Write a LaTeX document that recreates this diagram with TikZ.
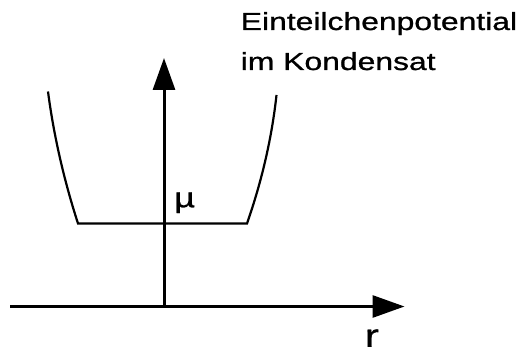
\documentclass[tikz,border=0pt]{standalone}
\usepackage{fontspec}
\setmainfont{Liberation Sans}
\newfontfamily\widefont[FakeStretch=1.29,FakeBold=0.9]{Liberation Sans}
\usetikzlibrary{arrows.meta}
\begin{document}
\begin{tikzpicture}[x=1pt,y=-1pt,
  axis/.style={line width=3pt,-{Triangle[length=32pt,width=22pt]}},
  thin/.style={line width=2.2pt},
  lbl/.style={inner sep=0pt,outer sep=0pt,anchor=base west}]
\useasboundingbox (0,0) rectangle (524,350);
% axes
\coordinate (hs) at (10,306.5);
\coordinate (he) at (404.5,306.5);
\coordinate (vs) at (164,306.5);
\coordinate (ve) at (164,58);
\draw[axis] (hs) -- (he);
\draw[axis] (vs) -- (ve);
% potential
\coordinate (lt) at (48,91.5);
\coordinate (lb) at (78,223.5);
\coordinate (rb) at (247,223.5);
\coordinate (rt) at (276.5,95);
\draw[thin,line join=miter] (lt) .. controls (53.67,134.97) and (63.67,179.13) .. (lb)
  -- (rb) .. controls (261.9,180.8) and (271.8,137.9) .. (rt);
% labels
\node[lbl,font={\widefont\fontsize{24.7}{40}\selectfont},align=left] (title) at (240.8,70)
  {Einteilchenpotential\\im Kondensat};
\node[lbl,font={\widefont\fontsize{28}{28}\selectfont}] (mu) at (174.2,207.2) {µ};
\node[lbl,font={\widefont\fontsize{32.4}{34}\selectfont}] (r) at (364.9,346.8) {r};
\end{tikzpicture}
\end{document}
